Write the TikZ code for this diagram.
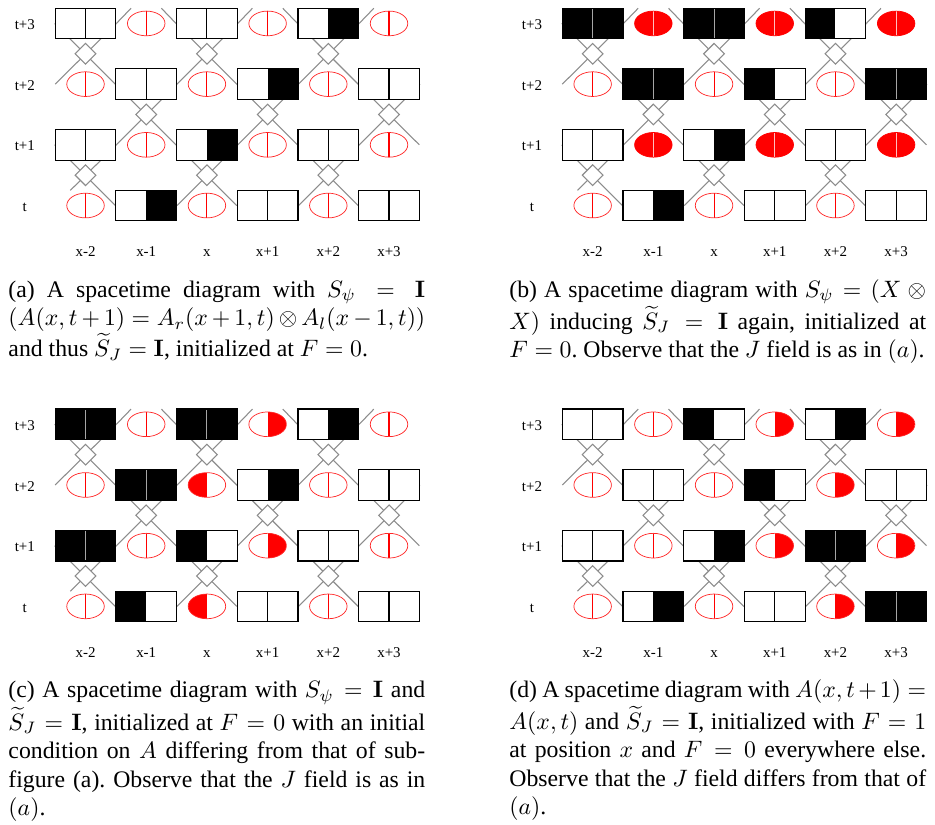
\documentclass[tikz,border=0pt]{standalone}
\usepackage[no-math]{fontspec}
\setmainfont{Liberation Serif}
\usetikzlibrary{shapes.geometric,backgrounds}
\frenchspacing

\tikzset{
  wire/.style={black!45, line width=0.45pt},
  hub/.style={diamond, draw=black!45, fill=white, line width=0.45pt, minimum size=8.9pt, inner sep=0pt},
  twin/.style={rectangle, draw=black, fill=white, line width=0.45pt, minimum width=25.56pt, minimum height=12.9pt, inner sep=0pt},
  oval/.style={ellipse, draw=red!85, fill=white, line width=0.3pt, minimum width=15.8pt, minimum height=10.4pt, inner sep=0pt},
  % J cells: left/right half white or black
  cell ww/.style={twin, path picture={\draw[black, line width=0.45pt] (path picture bounding box.north) -- (path picture bounding box.south);}},
  cell wb/.style={twin, path picture={\fill[black] (path picture bounding box.south) rectangle (path picture bounding box.north east);}},
  cell bw/.style={twin, path picture={\fill[black] (path picture bounding box.south west) rectangle (path picture bounding box.north);}},
  cell bb/.style={twin, fill=black, path picture={\draw[black!35, line width=0.45pt] (path picture bounding box.north) -- (path picture bounding box.south);}},
  % A cells: empty, full, left half, right half
  cell e/.style={oval, path picture={\draw[red, line width=0.45pt] (path picture bounding box.north) -- (path picture bounding box.south);}},
  cell f/.style={oval, fill=red, draw=red, path picture={\draw[red!25, line width=0.45pt] (path picture bounding box.north) -- (path picture bounding box.south);}},
  cell l/.style={oval, path picture={\fill[red] (path picture bounding box.south west) rectangle (path picture bounding box.north);}},
  cell r/.style={oval, path picture={\fill[red] (path picture bounding box.south) rectangle (path picture bounding box.north east);}},
  lbl/.style={font=\fontsize{6.3}{7.6}\selectfont, anchor=base, inner sep=0pt},
  capt/.style={anchor=base west, inner sep=0pt, font=\fontsize{10}{12}\selectfont}
}

% #1 panel name, #2 cells from row t+3 down to row t, left to right
\newcommand{\spacetime}[2]{
  \foreach \s [count=\k from 0] in {#2} {
    \pgfmathtruncatemacro{\i}{mod(\k,6)}
    \pgfmathtruncatemacro{\j}{3-floor(\k/6)}
    \node[cell \s] (#1\i\j) at (\i,\j) {};
  }
  % loose ends at the border
  \coordinate (#1pL) at (-0.5,2);
  \coordinate (#1pR) at (5.5,1);
  \coordinate (#1pT) at (-0.25,0.25);
  \foreach \n/\x in {1/0.75,2/1.25,3/2.75,4/3.25,5/4.75}
    \coordinate (#1s\n) at (\x,3.25);
  \begin{scope}[on background layer]
    \foreach \p/\q in {03.west/12.west,03.east/pL,23.west/32.west,23.east/12.east,43.west/52.west,43.east/32.east,12.west/21.west,12.east/01.east,32.west/41.west,32.east/21.east,52.west/pR,52.east/41.east,01.west/10.west,01.east/pT,21.west/30.west,21.east/10.east,41.west/50.west,41.east/30.east,03.east/s1,23.west/s2,23.east/s3,43.west/s4,43.east/s5}
      \draw[wire] (#1\p) -- (#1\q);
  \end{scope}
  \foreach \i/\j in {0/3,2/3,4/3,1/2,3/2,5/2,0/1,2/1,4/1}
    \node[hub] (#1h\i\j) at (\i,\j-0.5) {};
  % axes
  \foreach \j/\lab in {0/t,1/t+1,2/t+2,3/t+3}
    \node[lbl] (#1row\j) at (-1,\j-0.1) {\lab};
  \foreach \i/\lab in {0/x-2,1/x-1,2/x,3/x+1,4/x+2,5/x+3}
    \node[lbl] (#1col\i) at (\i,-0.84) {\lab};
}

\begin{document}
\begin{tikzpicture}[x=25.56pt, y=25.56pt]
  \useasboundingbox (0,0) rectangle (15.404,-13.591);

  \begin{scope}[shift={(1.409,-3.386)}]
    \spacetime{a}{ww,e,ww,e,wb,e,e,ww,e,wb,e,ww,ww,e,wb,e,ww,e,e,wb,e,ww,e,ww}
    \node[capt] (acap) at (-1.277,-1.507) {\parbox[t]{175.5pt}{(a) A spacetime diagram with $S_\psi = \mathbf{I}$\linebreak $(A(x,t+1) = A_r(x+1,t) \otimes A_l(x-1,t))$\linebreak and thus $\widetilde{S}_J = \mathbf{I}$, initialized at $F = 0$.}};
  \end{scope}

  \begin{scope}[shift={(9.764,-3.386)}]
    \spacetime{b}{bb,f,bb,f,bw,f,e,bb,e,bw,e,bb,ww,f,wb,f,ww,f,e,wb,e,ww,e,ww}
    \node[capt] (bcap) at (-1.379,-1.507) {\parbox[t]{175.5pt}{(b) A spacetime diagram with $S_\psi = (X \otimes \linebreak X)$ inducing $\widetilde{S}_J = \mathbf{I}$ again, initialized at\linebreak $F = 0$. Observe that the $J$ field is as in $(a)$.}};
  \end{scope}

  \begin{scope}[shift={(1.409,-9.99)}]
    \spacetime{c}{bb,e,bb,r,wb,e,e,bb,l,wb,e,ww,bb,e,bw,r,ww,e,e,bw,l,ww,e,ww}
    \node[capt] (ccap) at (-1.277,-1.507) {\parbox[t]{175.5pt}{(c) A spacetime diagram with $S_\psi = \mathbf{I}$ and\linebreak $\widetilde{S}_J = \mathbf{I}$, initialized at $F = 0$ with an initial\linebreak condition on $A$ differing from that of sub-\linebreak figure (a). Observe that the $J$ field is as in\linebreak $(a)$.}};
  \end{scope}

  \begin{scope}[shift={(9.764,-9.99)}]
    \spacetime{d}{ww,e,bw,r,wb,r,e,ww,e,bw,r,ww,ww,e,wb,r,bb,r,e,wb,e,ww,r,bb}
    \node[capt] (dcap) at (-1.379,-1.507) {\parbox[t]{175.5pt}{(d) A spacetime diagram with $A(x,t+1) = \linebreak A(x,t)$ and $\widetilde{S}_J = \mathbf{I}$, initialized with $F = 1$\linebreak at position $x$ and $F = 0$ everywhere else.\linebreak Observe that the $J$ field differs from that of\linebreak $(a)$.}};
  \end{scope}
\end{tikzpicture}
\end{document}
